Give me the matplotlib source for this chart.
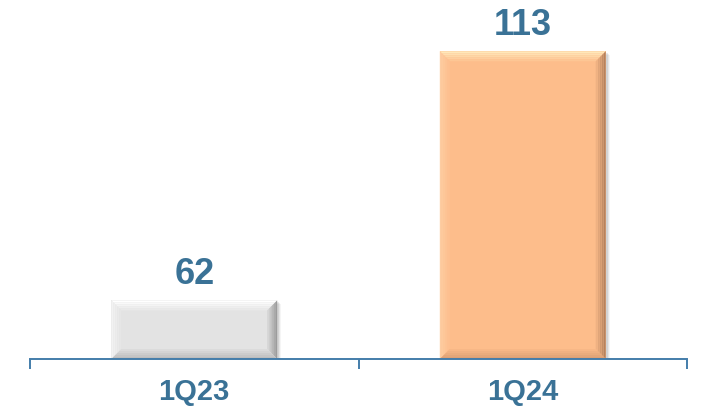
import matplotlib
matplotlib.use("Agg")
import matplotlib.pyplot as plt
import numpy as np
from matplotlib.colors import to_rgb
from matplotlib.patches import Polygon, Rectangle

plt.rcParams['font.family'] = ['Liberation Sans', 'DejaVu Sans']

categories = ['1Q23', '1Q24']
values = [62, 113]

text_color = '#3A7296'
axis_color = '#437DAA'

# face, top, left, right, bottom bevel colours (at the outer edge)
bar_styles = [
    dict(face='#E3E3E3', top='#FFFFFF', left='#F2F2F2', right='#9C9C9C', bottom='#BDBDBD'),
    dict(face='#FDBD8B', top='#FFE8BA', left='#FDCDA2', right='#B5825E', bottom='#DDA074'),
]

fig = plt.figure(figsize=(7.10, 4.12), dpi=100)
ax = fig.add_axes([30 / 710, 53 / 412, 657 / 710, 359 / 412])
ax.set_xlim(-0.5, 1.5)
ax.set_ylim(50, 123.5)

bar_w = 0.505
# pixel size in data units
px_x = 2.0 / 657
px_y = 73.5 / 359
bevel = 10
steps = 5


def mix(c1, c2, t):
    a = np.array(to_rgb(c1))
    b = np.array(to_rgb(c2))
    return tuple(a + (b - a) * t)


bars = ax.bar(range(len(values)), [v - 50 for v in values], bottom=50, width=bar_w,
              color=[s['face'] for s in bar_styles], zorder=2)

for b, s in zip(bars, bar_styles):
    x0 = b.get_x()
    x1 = x0 + b.get_width()
    y0 = b.get_y()
    y1 = y0 + b.get_height()
    # soft shadow on the right
    for k, a in [(4, 0.04), (3, 0.06), (2, 0.08)]:
        ax.add_patch(Rectangle((x0 + k * px_x, y0), b.get_width(), b.get_height() - k * px_y,
                               facecolor='#000000', alpha=a, lw=0, zorder=1))
    for j in range(steps):
        d0 = bevel * j / steps
        d1 = bevel * (j + 1) / steps
        t = j / steps
        ax0, ax1 = x0 + d0 * px_x, x1 - d0 * px_x
        ay0, ay1 = y0 + d0 * px_y, y1 - d0 * px_y
        bx0, bx1 = x0 + d1 * px_x, x1 - d1 * px_x
        by0, by1 = y0 + d1 * px_y, y1 - d1 * px_y
        ax.add_patch(Polygon([(ax0, ay1), (ax1, ay1), (bx1, by1), (bx0, by1)],
                             facecolor=mix(s['top'], s['face'], t), lw=0, zorder=3))
        ax.add_patch(Polygon([(ax0, ay0), (ax0, ay1), (bx0, by1), (bx0, by0)],
                             facecolor=mix(s['left'], s['face'], t), lw=0, zorder=3))
        ax.add_patch(Polygon([(ax1, ay0), (ax1, ay1), (bx1, by1), (bx1, by0)],
                             facecolor=mix(s['right'], s['face'], t), lw=0, zorder=3))
        ax.add_patch(Polygon([(ax0, ay0), (ax1, ay0), (bx1, by0), (bx0, by0)],
                             facecolor=mix(s['bottom'], s['face'], t), lw=0, zorder=3))

for i, v in enumerate(values):
    ax.annotate(str(v), (i, v), xytext=(0, 12), textcoords='offset points',
                ha='center', va='baseline', fontsize=26, fontweight='bold',
                color=text_color)

for side in ['left', 'right', 'top']:
    ax.spines[side].set_visible(False)
ax.spines['bottom'].set_color(axis_color)
ax.spines['bottom'].set_linewidth(1.4)
ax.spines['bottom'].set_zorder(4)

ax.set_yticks([])
ax.set_xticks(range(len(categories)), categories)
ax.set_xticks([-0.5, 0.5, 1.5], minor=True)
ax.tick_params(axis='x', which='major', length=0, pad=14, labelsize=21,
               labelcolor=text_color)
ax.tick_params(axis='x', which='minor', length=7, width=1.4, color=axis_color,
               direction='out')
for lab in ax.get_xticklabels():
    lab.set_fontweight('bold')

fig.savefig('out.png', dpi=100)
